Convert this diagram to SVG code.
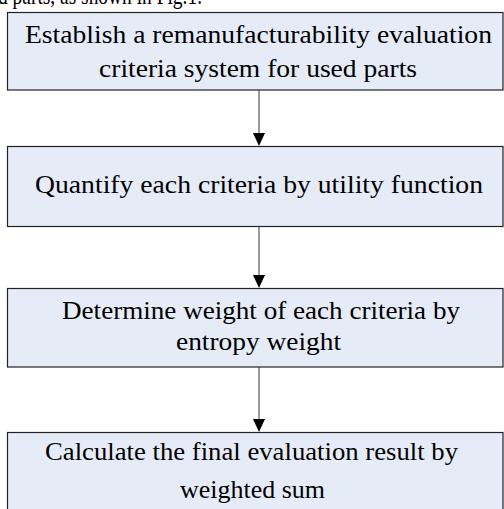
<svg xmlns="http://www.w3.org/2000/svg" width="504" height="509" viewBox="0 0 504 509">
<defs>
<style>
.box{fill:#e6ecf7;stroke:#222;stroke-width:1.2}
.t{font-size:25px;fill:#000}
.c{stroke:#555;stroke-width:1.2;fill:none}
</style>
</defs>
<rect width="504" height="509" fill="#fff"/>
<text x="-2" y="4" font-family="Liberation Serif, serif" font-size="25" textLength="204" lengthAdjust="spacingAndGlyphs">d parts, as shown in Fig.1.</text>
<g id="connectors">
<line class="c" x1="259" y1="90" x2="259" y2="133"/>
<path d="M253,133 L265,133 L259,146 Z" fill="#000"/>
<line class="c" x1="259" y1="227" x2="259" y2="275"/>
<path d="M253,275 L265,275 L259,288 Z" fill="#000"/>
<line class="c" x1="259" y1="367" x2="259" y2="419"/>
<path d="M253,419 L265,419 L259,432 Z" fill="#000"/>
</g>
<g font-family="Liberation Serif, Times New Roman, serif">
<g id="n1">
<rect class="box" x="7.5" y="12.5" width="495.5" height="77.5"/>
<text class="t" x="25" y="43" textLength="467" lengthAdjust="spacingAndGlyphs">Establish a remanufacturability evaluation</text>
<text class="t" x="99" y="77" textLength="318" lengthAdjust="spacingAndGlyphs">criteria system for used parts</text>
</g>
<g id="n2">
<rect class="box" x="7.5" y="146.5" width="495.5" height="80"/>
<text class="t" x="35" y="193" textLength="448" lengthAdjust="spacingAndGlyphs">Quantify each criteria by utility function</text>
</g>
<g id="n3">
<rect class="box" x="7.5" y="288.5" width="495.5" height="78.5"/>
<text class="t" x="62" y="319" textLength="398" lengthAdjust="spacingAndGlyphs">Determine weight of each criteria by</text>
<text class="t" x="176" y="350" textLength="165" lengthAdjust="spacingAndGlyphs">entropy weight</text>
</g>
<g id="n4">
<rect class="box" x="7.5" y="432.5" width="495.5" height="90"/>
<text class="t" x="45" y="460" textLength="413" lengthAdjust="spacingAndGlyphs">Calculate the final evaluation result by</text>
<text class="t" x="180" y="498" textLength="145" lengthAdjust="spacingAndGlyphs">weighted sum</text>
</g>
</g>
</svg>
